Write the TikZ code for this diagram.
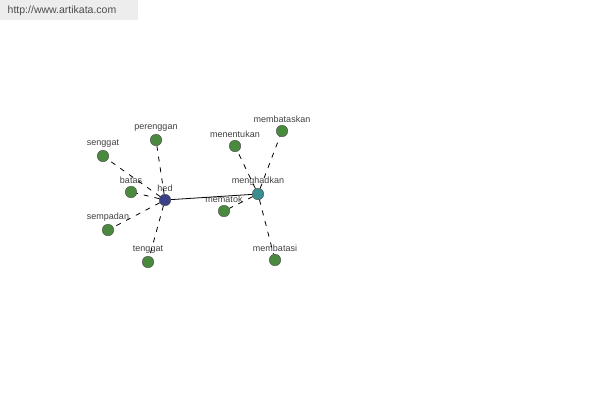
\documentclass[tikz,border=0pt]{standalone}
\usepackage{fontspec}
\setmainfont{Liberation Sans}

\definecolor{wordgreen}{HTML}{4A8A3E}
\definecolor{wordblue}{HTML}{3C4088}
\definecolor{wordteal}{HTML}{3A8E90}

\begin{document}
\begin{tikzpicture}[
  x=1pt, y=-1pt,
  word/.style={
    circle,
    draw=black!70,
    fill=wordgreen,
    minimum size=11.5pt,
    inner sep=0pt,
    label={[lbl]above:#1}
  },
  root/.style={word=#1, fill=wordblue},
  sense/.style={word=#1, fill=wordteal},
  lbl/.style={font=\fontsize{9}{10}\selectfont, text=black!75, inner sep=0pt, label distance=2pt},
  line/.style={draw, black, line width=0.8pt},
  link/.style={line, dash pattern=on 5pt off 6pt}
]
\useasboundingbox (0,0) rectangle (600,400);
\fill[black!7] (0,0) rectangle (138,20);
\node[font=\fontsize{10.5}{12}\selectfont, text=black!70] (site) at (62,11) {http://www.artikata.com};

\node[root=hed] (hed) at (165,200) {};
\node[sense=menghadkan] (menghadkan) at (258,194) {};

\node[word=perenggan] (perenggan) at (156,140) {};
\node[word=senggat] (senggat) at (103,156) {};
\node[word=batas] (batas) at (131,192) {};
\node[word=sempadan] (sempadan) at (108,230) {};
\node[word=tenggat] (tenggat) at (148,262) {};

\node[word=menentukan] (menentukan) at (235,146) {};
\node[word=membataskan] (membataskan) at (282,131) {};
\node[word=mematok] (mematok) at (224,211) {};
\node[word=membatasi] (membatasi) at (275,260) {};

\draw[line] (hed) -- (menghadkan);
\draw[link] (hed) -- (perenggan);
\draw[link] (hed) -- (senggat);
\draw[link] (hed) -- (batas);
\draw[link] (hed) -- (sempadan);
\draw[link] (hed) -- (tenggat);
\draw[link] (menghadkan) -- (menentukan);
\draw[link] (menghadkan) -- (membataskan);
\draw[link] (menghadkan) -- (mematok);
\draw[link] (menghadkan) -- (membatasi);
\end{tikzpicture}
\end{document}
